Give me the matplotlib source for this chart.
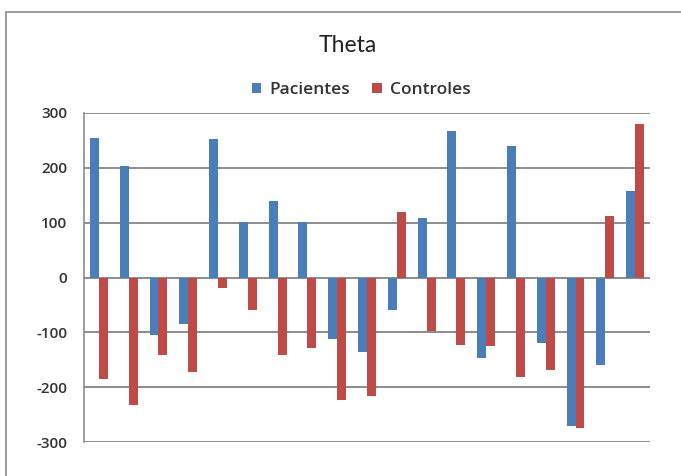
import matplotlib
matplotlib.use("Agg")
import matplotlib.pyplot as plt
import numpy as np

plt.rcParams['font.family'] = ['Open Sans', 'DejaVu Sans']

pacientes = [255, 204, -105, -84, 253, 102, 140, 102, -113, -136,
             -59, 108, 268, -147, 240, -120, -271, -159, 158]
controles = [-185, -233, -141, -172, -19, -60, -141, -128, -224, -217,
             119, -98, -123, -125, -181, -169, -274, 113, 280]
yticks = [-300, -200, -100, 0, 100, 200, 300]

fig = plt.figure(figsize=(6.81, 4.76), dpi=100)
ax = fig.add_axes([84/681, 1-442/476, (650-84)/681, (442-113)/476])

x = np.arange(len(pacientes))
w = 0.3
ax.bar(x - w/2, pacientes, w, color='#4A7EBB', label='Pacientes', zorder=3)
ax.bar(x + w/2, controles, w, color='#BE4B48', label='Controles', zorder=3)

ax.set_xlim(-0.5, len(pacientes) - 0.5)
ax.set_ylim(-300, 300)
ax.set_yticks(yticks)
ax.set_yticklabels([str(v) for v in yticks], fontsize=11, color='#333333',
                   fontweight='semibold')
ax.tick_params(axis='y', length=0, pad=12)
ax.set_xticks([])
ax.grid(axis='y', color='#8C8C8C', linewidth=1.4, zorder=0)
for s in ['top', 'right', 'bottom']:
    ax.spines[s].set_visible(False)
ax.spines['left'].set_color('#8C8C8C')
ax.spines['left'].set_linewidth(1.2)

fig.text(348/681, 1-45/476, 'Theta', ha='center', va='center', fontsize=16.5,
         color='#222222', family=['Lato', 'DejaVu Sans'])
fig.legend(loc='center', bbox_to_anchor=(361/681, 1-90/476), ncol=2, frameon=False,
           prop={'size': 12.5, 'weight': 'semibold'},
           handlelength=0.55, handleheight=0.55, handletextpad=0.45,
           columnspacing=1.3, labelcolor='#333333')

# outer chart border
rect = plt.Rectangle((6/681, -0.01), 1.0, 1 - 12/476 + 0.01, transform=fig.transFigure,
                     fill=False, edgecolor='#8C8C8C', linewidth=1.2)
fig.patches.append(rect)

fig.savefig('out.png', dpi=100)
